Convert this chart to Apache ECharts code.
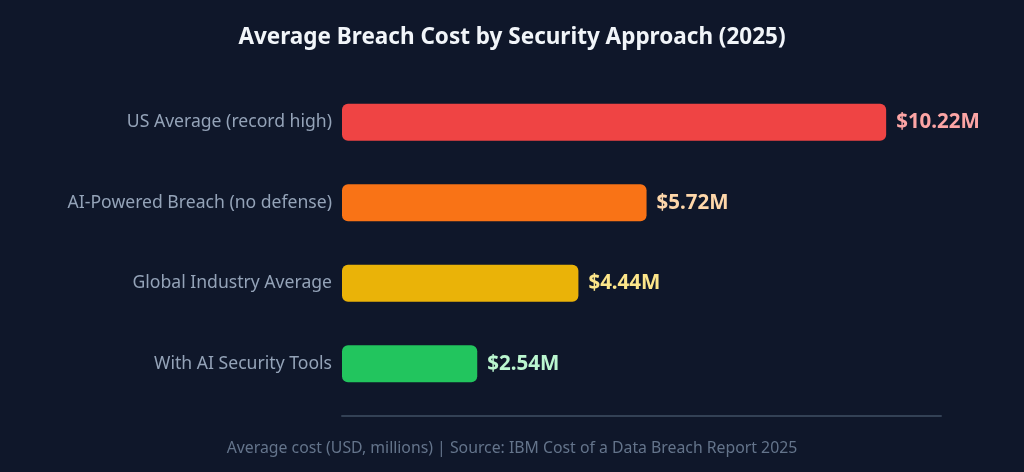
<!DOCTYPE html>
<html>
<head>
<meta charset="utf-8">
<script src="https://cdn.jsdelivr.net/npm/echarts@6/dist/echarts.min.js"></script>
<style>
html,body{margin:0;padding:0;background:#0f172a;}
#c{width:1024px;height:472px;}
</style>
</head>
<body>
<div id="c"></div>
<script>
const categories = ["US Average (record high)", "AI-Powered Breach (no defense)", "Global Industry Average", "With AI Security Tools"];
const values = [10.22, 5.72, 4.44, 2.54];
const barColors = ["#ef4444", "#f97316", "#eab308", "#22c55e"];
const labelColors = ["#fca5a5", "#fed7aa", "#fde68a", "#bbf7d0"];
const titleText = "Average Breach Cost by Security Approach (2025)";
const captionText = "Average cost (USD, millions) | Source: IBM Cost of a Data Breach Report 2025";

const FONT = "'Noto Sans', sans-serif";
const chart = echarts.init(document.getElementById('c'), null, {renderer: 'canvas'});
chart.setOption({
  backgroundColor: '#0f172a',
  animation: false,
  title: [
    {text: titleText, left: 'center', top: 21,
     textStyle: {color: '#f1f5f9', fontSize: 22.5, fontWeight: 'bold', fontFamily: FONT}},
    {text: captionText, left: 'center', top: 435,
     textStyle: {color: '#64748b', fontSize: 15.8, fontWeight: 'normal', fontFamily: FONT}}
  ],
  grid: {left: 342, right: 83, top: 82, bottom: 68, containLabel: false},
  xAxis: {
    type: 'value', min: 0, max: 11.25, offset: 12,
    axisLine: {show: true, lineStyle: {color: '#334155', width: 2}},
    axisTick: {show: false}, axisLabel: {show: false}, splitLine: {show: false}
  },
  yAxis: {
    type: 'category', inverse: true, data: categories,
    axisLine: {show: false}, axisTick: {show: false},
    axisLabel: {color: '#94a3b8', fontSize: 17.6, fontFamily: FONT, margin: 10}
  },
  series: [{
    type: 'bar', barWidth: 37,
    data: values.map((v, i) => ({
      value: v,
      itemStyle: {color: barColors[i], borderRadius: 6},
      label: {color: labelColors[i]}
    })),
    label: {
      show: true, position: 'right', distance: 10,
      fontSize: 20.5, fontWeight: 'bold', fontFamily: FONT,
      formatter: p => '$' + p.value.toFixed(2) + 'M'
    }
  }]
});
</script>
</body>
</html>
